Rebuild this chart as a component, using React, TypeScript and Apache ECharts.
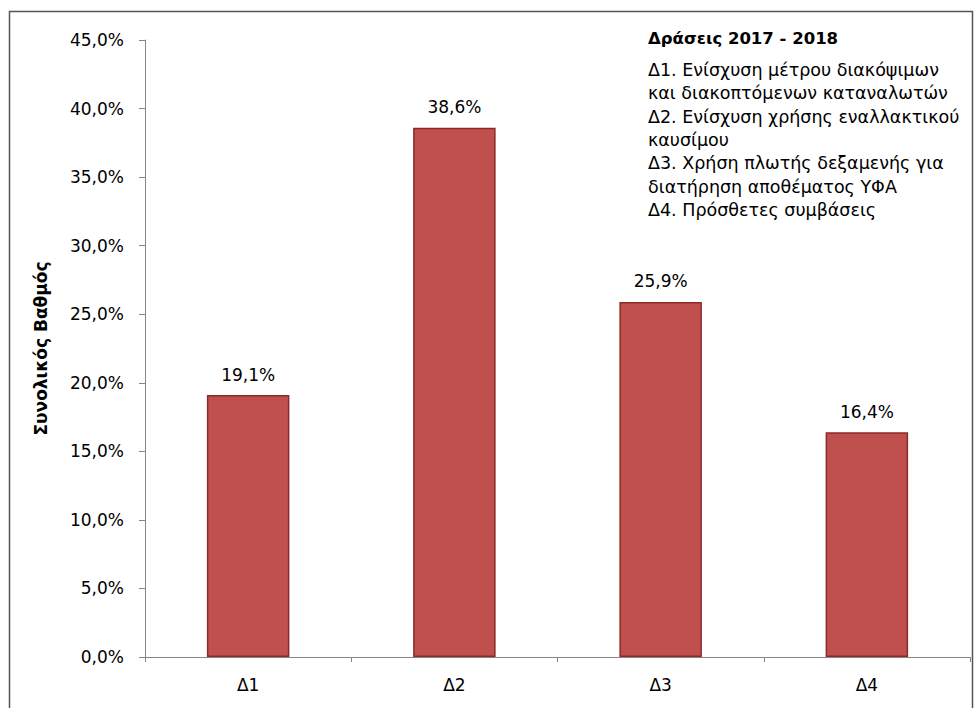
import React, { useEffect, useRef } from "react";
import * as echarts from "echarts";

const categories = ["Δ1", "Δ2", "Δ3", "Δ4"];
const values = [19.1, 38.6, 25.9, 16.4];
const yTitle = "Συνολικός Βαθμός";
const legendTitle = "Δράσεις 2017 - 2018";
const legendLines = [
  "Δ1. Ενίσχυση μέτρου διακόψιμων",
  "και διακοπτόμενων καταναλωτών",
  "Δ2. Ενίσχυση χρήσης εναλλακτικού",
  "καυσίμου",
  "Δ3. Χρήση πλωτής δεξαμενής για",
  "διατήρηση αποθέματος ΥΦΑ",
  "Δ4. Πρόσθετες συμβάσεις",
];

const fmt = (v: number) => v.toFixed(1).replace(".", ",") + "%";
const FONT = "DejaVu Sans";

export default function App() {
  const ref = useRef<HTMLDivElement>(null);
  useEffect(() => {
    document.body.style.margin = "0";
    const chart = echarts.init(ref.current!, null, { renderer: "svg" });
    chart.setOption({
      animation: false,
      backgroundColor: "#ffffff",
      grid: { left: 145, right: 10, top: 40, bottom: 51, containLabel: false },
      xAxis: {
        type: "category",
        data: categories,
        axisLine: { lineStyle: { color: "#868686", width: 1 } },
        axisTick: { show: true, alignWithLabel: false, length: 5, lineStyle: { color: "#868686" } },
        axisLabel: { color: "#000", fontFamily: FONT, fontSize: 17, margin: 19 },
      },
      yAxis: {
        type: "value",
        min: 0,
        max: 45,
        interval: 5,
        name: yTitle,
        nameLocation: "middle",
        nameGap: 96,
        nameTextStyle: { fontFamily: FONT, fontSize: 17, fontWeight: "bold", color: "#000" },
        axisLine: { show: true, lineStyle: { color: "#868686", width: 1 } },
        axisTick: { show: true, length: 6, lineStyle: { color: "#868686" } },
        splitLine: { show: false },
        axisLabel: {
          color: "#000",
          fontFamily: FONT,
          fontSize: 17,
          margin: 21,
          formatter: (v: number) => fmt(v),
        },
      },
      series: [
        {
          type: "bar",
          data: values,
          barWidth: "40%",
          itemStyle: { color: "#C0504D", borderColor: "#8C2A28", borderWidth: 1.5 },
          label: {
            show: true,
            position: "top",
            distance: 12,
            color: "#000",
            fontFamily: FONT,
            fontSize: 17,
            formatter: (p: any) => fmt(p.value),
          },
        },
      ],
      graphic: [
        {
          type: "rect",
          shape: { x: 9.5, y: 11.5, width: 963, height: 720 },
          style: { fill: "none", stroke: "#555", lineWidth: 1.5 },
          silent: true,
        },
        {
          type: "text",
          x: 648,
          y: 38,
          style: {
            text: legendTitle,
            fontFamily: FONT,
            fontSize: 16.5,
            fontWeight: "bold",
            fill: "#000",
            textVerticalAlign: "middle",
          },
        },
        ...legendLines.map((t, i) => ({
          type: "text",
          x: 648,
          y: 70 + i * 23.3,
          style: { text: t, fontFamily: FONT, fontSize: 17.5, fill: "#000", textVerticalAlign: "middle" },
        })),
      ],
    });
    return () => chart.dispose();
  }, []);
  return <div ref={ref} style={{ position: "absolute", left: 0, top: 0, width: 980, height: 708 }} />;
}
